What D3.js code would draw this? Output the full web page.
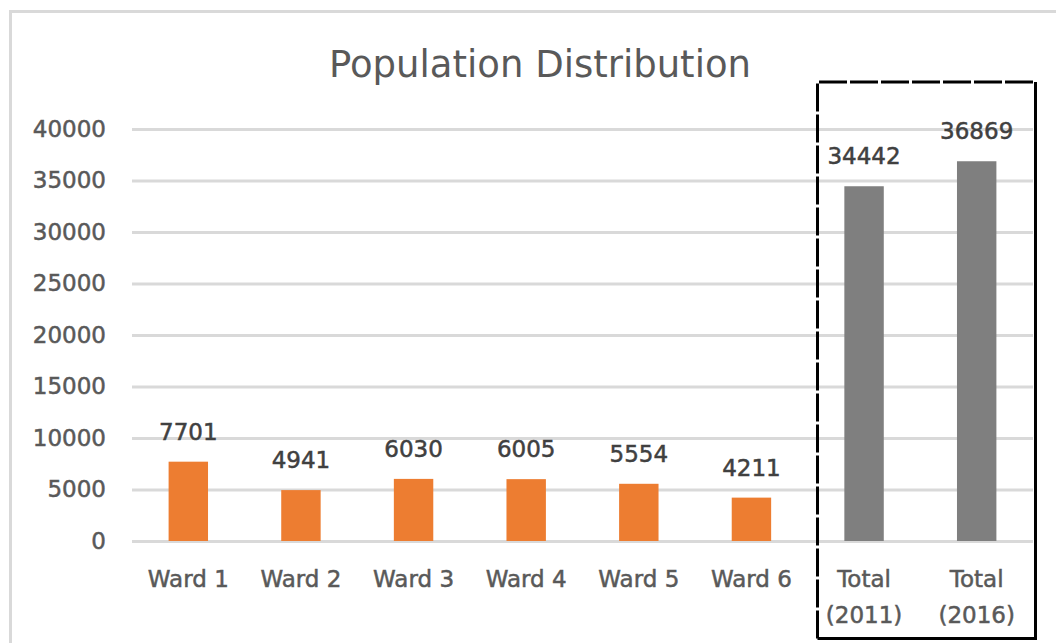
<!DOCTYPE html>
<html>
<head>
<meta charset="utf-8">
<script src="https://cdn.jsdelivr.net/npm/d3@7"></script>
<style>
  body { margin: 0; background: #fff; }
  text { font-family: "DejaVu Sans", sans-serif; }
</style>
</head>
<body>
<div id="chart"></div>
<script>
var categories = ["Ward 1", "Ward 2", "Ward 3", "Ward 4", "Ward 5", "Ward 6", "Total\n(2011)", "Total\n(2016)"];
var population = [7701, 4941, 6030, 6005, 5554, 4211, 34442, 36869];
var yTicks = [0, 5000, 10000, 15000, 20000, 25000, 30000, 35000, 40000];

var svgWidth = 1056;
var svgHeight = 643;

var plot = { left: 132, right: 1033, top: 129, bottom: 541 };

var svg = d3.select("#chart")
  .append("svg")
  .attr("width", svgWidth)
  .attr("height", svgHeight);

// outer chart border (runs off the picture on the right and bottom)
svg.append("rect")
  .attr("x", 10.5)
  .attr("y", 11.5)
  .attr("width", 1100)
  .attr("height", 700)
  .attr("fill", "none")
  .attr("stroke", "#d9d9d9")
  .attr("stroke-width", 3);

var x = d3.scaleBand()
  .domain(categories)
  .range([plot.left, plot.right])
  .paddingInner(0.65)
  .paddingOuter(0.325);

var y = d3.scaleLinear()
  .domain([0, 40000])
  .range([plot.bottom, plot.top]);

// gridlines + y labels
var leftAxis = d3.axisLeft(y)
  .tickValues(yTicks)
  .tickSize(-(plot.right - plot.left))
  .tickPadding(26)
  .tickFormat(d3.format("d"));

var yAxis = svg.append("g")
  .attr("transform", `translate(${plot.left}, 0)`)
  .call(leftAxis);

yAxis.select(".domain").remove();
yAxis.selectAll(".tick line")
  .attr("stroke", "#d9d9d9")
  .attr("stroke-width", 3);
yAxis.selectAll(".tick text")
  .attr("fill", "#595959")
  .attr("stroke", "#595959")
  .attr("stroke-width", 0.5)
  .style("font-size", "23px")
  .style("font-family", "DejaVu Sans");

// bars
svg.selectAll(".bar")
  .data(population)
  .enter()
  .append("rect")
  .attr("class", "bar")
  .attr("x", (d, i) => x(categories[i]))
  .attr("y", d => y(d))
  .attr("width", x.bandwidth())
  .attr("height", d => y(0) - y(d))
  .attr("fill", (d, i) => categories[i].startsWith("Total") ? "#7f7f7f" : "#ed7d31");

// value labels
svg.selectAll(".value")
  .data(population)
  .enter()
  .append("text")
  .attr("class", "value")
  .attr("x", (d, i) => x(categories[i]) + x.bandwidth() / 2)
  .attr("y", d => y(d) - 22)
  .attr("text-anchor", "middle")
  .attr("fill", "#404040")
  .attr("stroke", "#404040")
  .attr("stroke-width", 0.5)
  .style("font-size", "23px")
  .text(d => d);

// x category labels
var catLabels = svg.selectAll(".cat")
  .data(categories)
  .enter()
  .append("text")
  .attr("class", "cat")
  .attr("x", d => x(d) + x.bandwidth() / 2)
  .attr("y", 587)
  .attr("text-anchor", "middle")
  .attr("fill", "#595959")
  .attr("stroke", "#595959")
  .attr("stroke-width", 0.5)
  .style("font-size", "23px");

catLabels.each(function(d) {
  var lines = d.split("\n");
  var t = d3.select(this);
  lines.forEach(function(line, k) {
    t.append("tspan")
      .attr("x", x(d) + x.bandwidth() / 2)
      .attr("dy", k === 0 ? 0 : 36)
      .text(line);
  });
});

// title
svg.append("text")
  .attr("x", 540)
  .attr("y", 77)
  .attr("text-anchor", "middle")
  .attr("fill", "#595959")
  .style("font-size", "37px")
  .text("Population Distribution");

// dashed highlight box around the totals
var box = { x1: 817.5, x2: 1035.5, y1: 82, y2: 638.5 };
svg.append("path")
  .attr("d", `M${box.x1},${box.y2} L${box.x1},${box.y1} L${box.x2},${box.y1}`)
  .attr("fill", "none")
  .attr("stroke", "#000")
  .attr("stroke-width", 3)
  .attr("stroke-dasharray", "28,3");
svg.append("path")
  .attr("d", `M${box.x2},${box.y1} L${box.x2},${box.y2} L${box.x1},${box.y2}`)
  .attr("fill", "none")
  .attr("stroke", "#000")
  .attr("stroke-width", 3);
</script>
</body>
</html>
